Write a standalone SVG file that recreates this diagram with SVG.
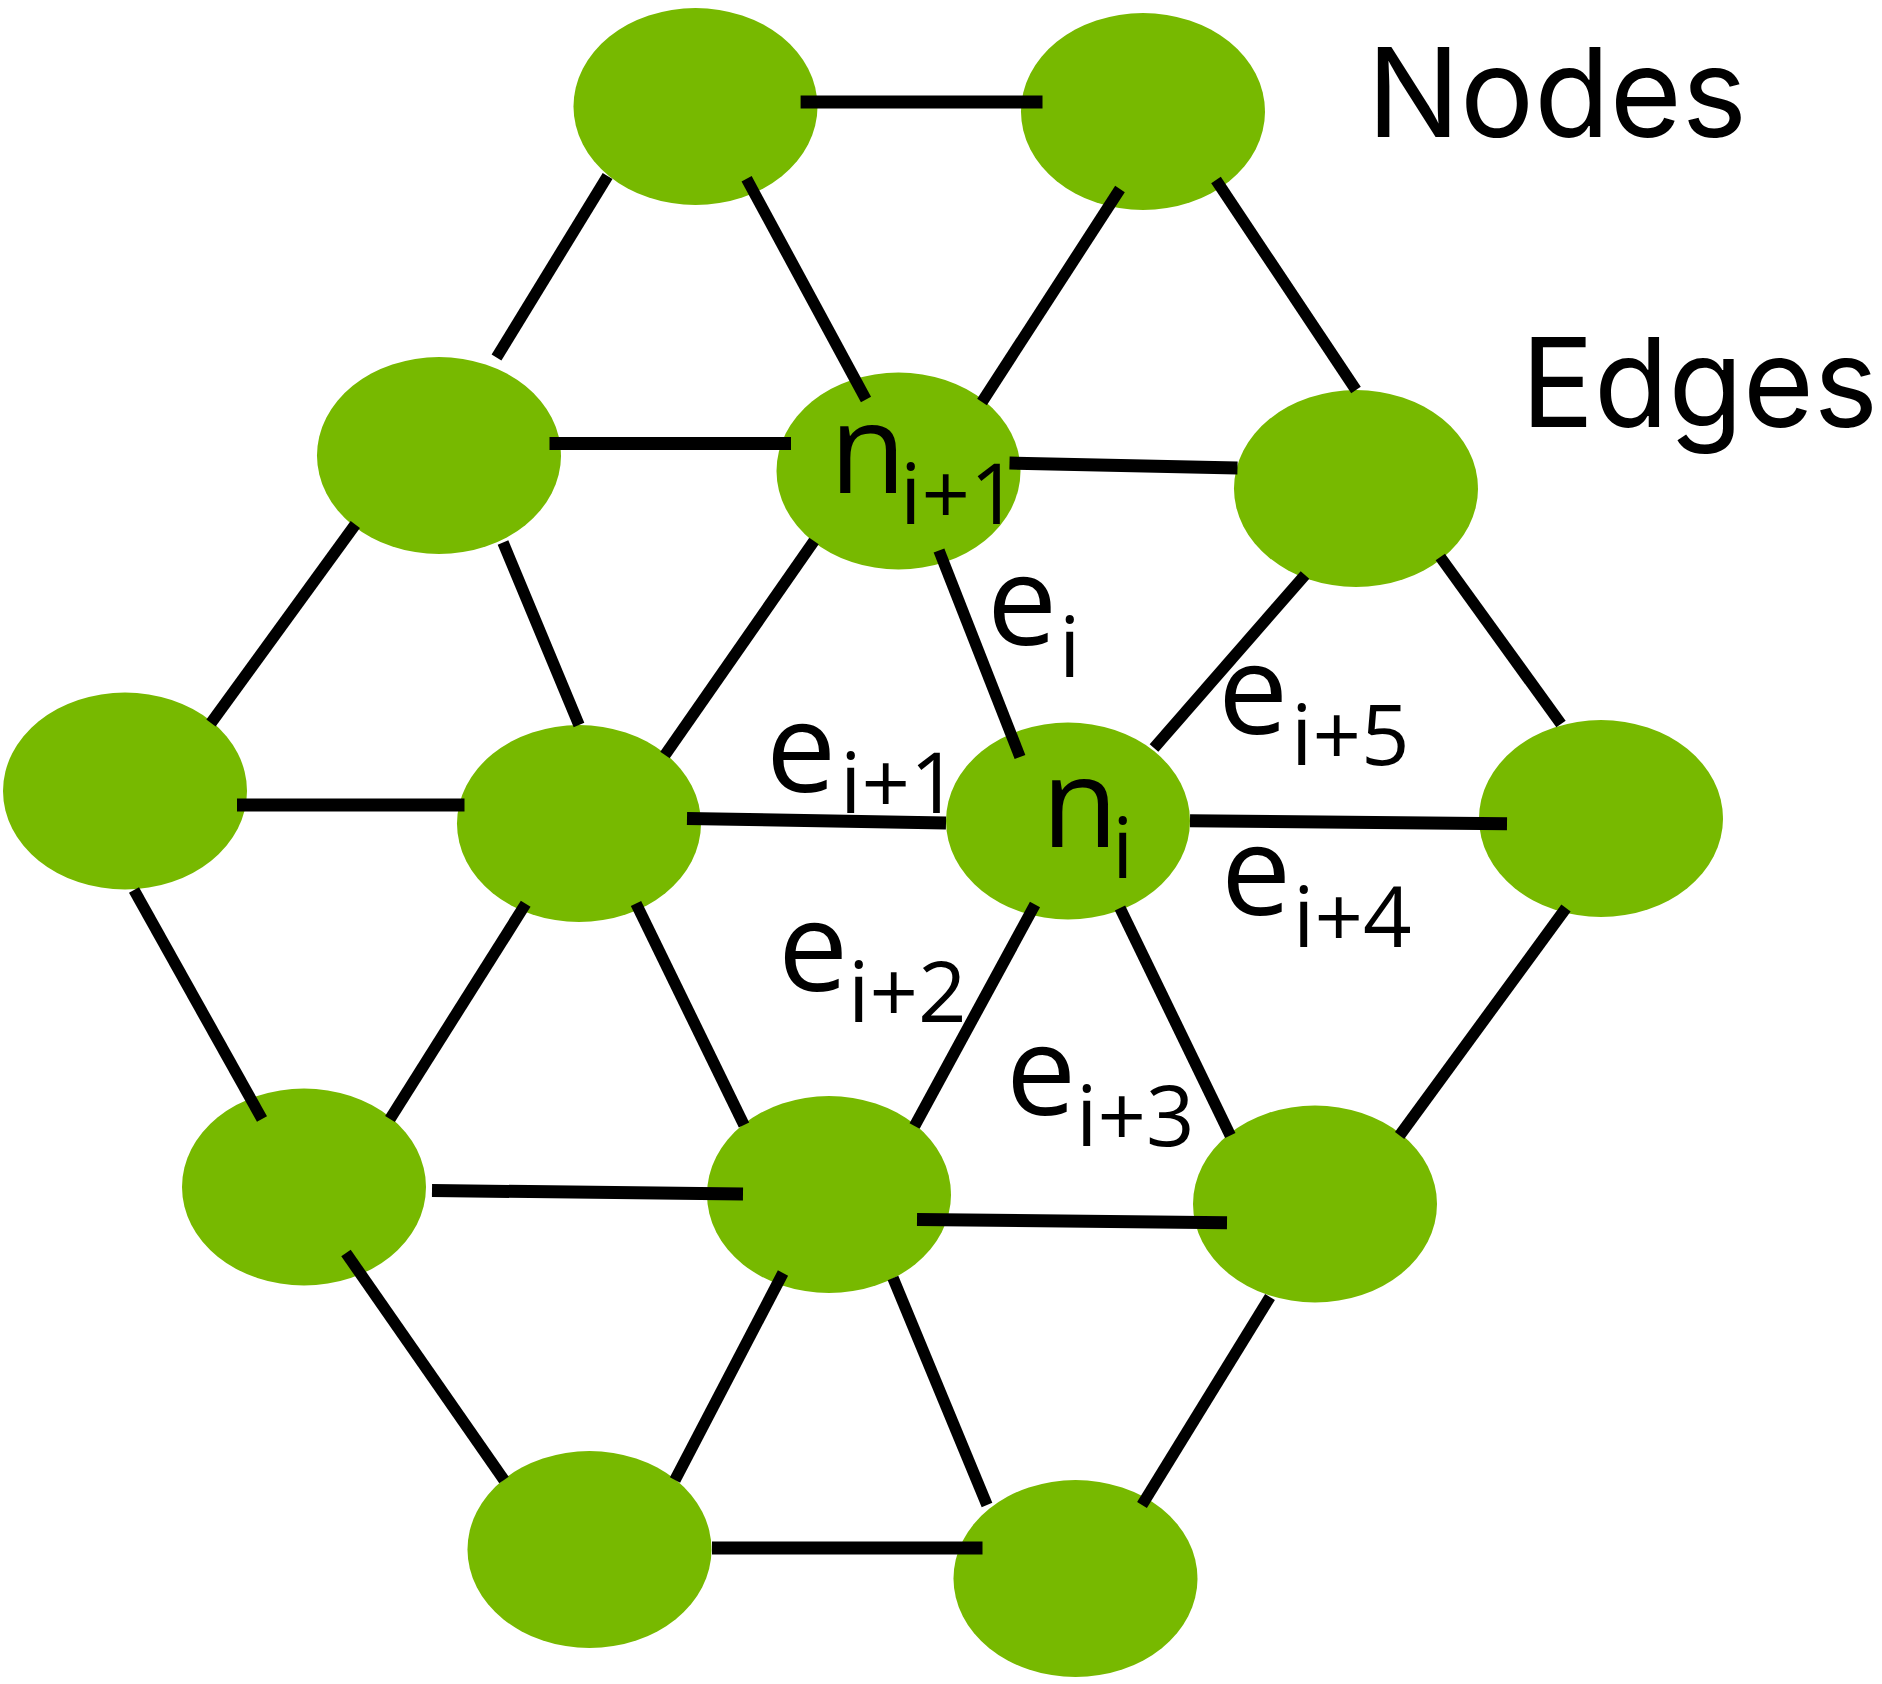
<svg xmlns="http://www.w3.org/2000/svg" width="1882" height="1684" viewBox="0 0 1882 1684">
<style>
.node{fill:#77b900}
.h{stroke:#000;stroke-width:13;stroke-linecap:butt;fill:none}
.d{stroke:#000;stroke-width:11.5;stroke-linecap:butt;fill:none}
.lbl{font-family:"Open Sans","Noto Sans","DejaVu Sans",sans-serif;font-size:125px;fill:#000}
.sub{font-size:85px}
.legend{font-family:Inter,"Noto Sans","Liberation Sans",sans-serif;font-size:124px;fill:#000}
</style>
<rect width="1882" height="1684" fill="#fff"/>
<g id="nodes">
<g id="node-1"><ellipse class="node" cx="695.5" cy="106.5" rx="122" ry="98.5"/></g>
<g id="node-2"><ellipse class="node" cx="1143" cy="111.5" rx="122" ry="98.5"/></g>
<g id="node-3"><ellipse class="node" cx="439" cy="455.5" rx="122" ry="98.5"/></g>
<g id="node-4"><ellipse class="node" cx="898.5" cy="471" rx="122" ry="98.5"/></g>
<g id="node-5"><ellipse class="node" cx="1356" cy="488.5" rx="122" ry="98.5"/></g>
<g id="node-6"><ellipse class="node" cx="125" cy="791" rx="122" ry="98.5"/></g>
<g id="node-7"><ellipse class="node" cx="579" cy="823.5" rx="122" ry="98.5"/></g>
<g id="node-8"><ellipse class="node" cx="1068" cy="821" rx="122" ry="98.5"/></g>
<g id="node-9"><ellipse class="node" cx="1601" cy="818.5" rx="122" ry="98.5"/></g>
<g id="node-10"><ellipse class="node" cx="304" cy="1187" rx="122" ry="98.5"/></g>
<g id="node-11"><ellipse class="node" cx="829" cy="1194.5" rx="122" ry="98.5"/></g>
<g id="node-12"><ellipse class="node" cx="1315" cy="1204" rx="122" ry="98.5"/></g>
<g id="node-13"><ellipse class="node" cx="589.5" cy="1549.5" rx="122" ry="98.5"/></g>
<g id="node-14"><ellipse class="node" cx="1075.5" cy="1578.5" rx="122" ry="98.5"/></g>
</g>
<g id="connectors">
<line class="h" x1="800.6" y1="102" x2="1042.5" y2="102"/>
<line class="d" x1="607.6" y1="176" x2="496.5" y2="357.5"/>
<line class="d" x1="746.6" y1="178.8" x2="866" y2="399.5"/>
<line class="d" x1="1120" y1="189" x2="982" y2="402"/>
<line class="d" x1="1216" y1="180" x2="1356" y2="390"/>
<line class="h" x1="549.5" y1="443.5" x2="791" y2="443.5"/>
<line class="h" x1="1009.5" y1="463" x2="1237.5" y2="468"/>
<line class="d" x1="355.3" y1="524.5" x2="211" y2="723"/>
<line class="d" x1="503" y1="542.5" x2="579" y2="725"/>
<line class="d" x1="814" y1="541" x2="665" y2="755"/>
<line class="d" x1="939" y1="550.5" x2="1020" y2="757"/>
<line class="d" x1="1305" y1="575" x2="1154" y2="748"/>
<line class="d" x1="1440.3" y1="557" x2="1561" y2="724"/>
<line class="h" x1="237" y1="805" x2="464.5" y2="805"/>
<line class="h" x1="687" y1="818.5" x2="946" y2="823"/>
<line class="h" x1="1190" y1="820.7" x2="1507" y2="823.7"/>
<line class="d" x1="134" y1="890" x2="262" y2="1119"/>
<line class="d" x1="525.7" y1="903.8" x2="390" y2="1119"/>
<line class="d" x1="636" y1="903.6" x2="744" y2="1125"/>
<line class="d" x1="1035" y1="904.6" x2="914.6" y2="1126"/>
<line class="d" x1="1120" y1="908" x2="1230.3" y2="1135.5"/>
<line class="d" x1="1566" y1="908" x2="1399.6" y2="1135.5"/>
<line class="h" x1="432" y1="1190.5" x2="743" y2="1194"/>
<line class="h" x1="917" y1="1219.5" x2="1227" y2="1222.7"/>
<line class="d" x1="346" y1="1253" x2="504" y2="1480"/>
<line class="d" x1="783" y1="1273" x2="675" y2="1480"/>
<line class="d" x1="893" y1="1278" x2="987" y2="1505"/>
<line class="d" x1="1270" y1="1297" x2="1142" y2="1505"/>
<line class="h" x1="712" y1="1548" x2="982.5" y2="1548"/>
</g>
<g id="node-labels">
<text id="label-n-i1" class="lbl" x="829.5" y="492.7">n<tspan class="sub" x="900" y="524">i+1</tspan></text>
<text id="label-n-i" class="lbl" x="1041.5" y="847">n<tspan class="sub" x="1112" y="878">i</tspan></text>
</g>
<g id="edge-labels">
<text id="label-e-i" class="lbl" x="987" y="645">e<tspan class="sub" x="1059" y="677">i</tspan></text>
<text id="label-e-i1" class="lbl" x="766" y="792">e<tspan class="sub" x="840" y="813">i+1</tspan></text>
<text id="label-e-i5" class="lbl" x="1218" y="734">e<tspan class="sub" x="1291" y="765">i+5</tspan></text>
<text id="label-e-i4" class="lbl" x="1221" y="915">e<tspan class="sub" x="1293" y="946.7">i+4</tspan></text>
<text id="label-e-i2" class="lbl" x="778" y="991">e<tspan class="sub" x="848" y="1021.7">i+2</tspan></text>
<text id="label-e-i3" class="lbl" x="1006" y="1115">e<tspan class="sub" x="1076" y="1146">i+3</tspan></text>
</g>
<g id="legend">
<text class="legend" x="1367" y="136.7" textLength="380" lengthAdjust="spacingAndGlyphs">Nodes</text>
<text class="legend" x="1521" y="426.7" textLength="357" lengthAdjust="spacingAndGlyphs">Edges</text>
</g>
</svg>
